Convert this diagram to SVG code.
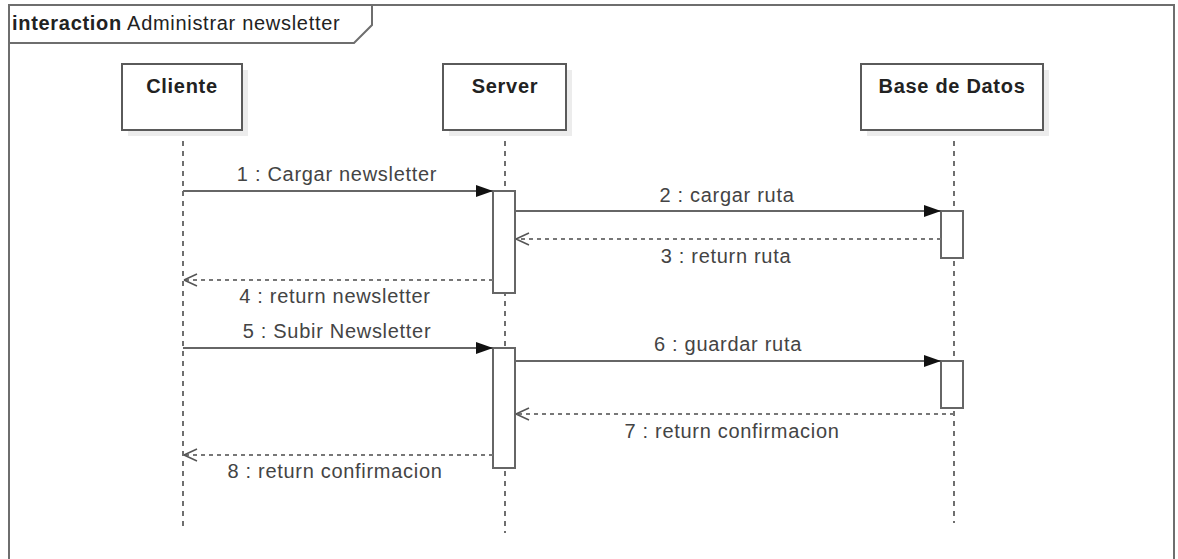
<svg xmlns="http://www.w3.org/2000/svg" width="1178" height="559" viewBox="0 0 1178 559">
<defs>
<style>
.frame{fill:none;stroke:#6e6e6e;stroke-width:2}
.box{fill:#fff;stroke:#5a5a5a;stroke-width:2}
.shadow{fill:#ececec}
.life{stroke:#222;stroke-width:1.3;stroke-dasharray:5,5;fill:none}
.act{fill:#fff;stroke:#666;stroke-width:2}
.msg{stroke:#666;stroke-width:2;fill:none}
.ret{stroke:#777;stroke-width:2;stroke-dasharray:4,4;fill:none}
.t{font-family:"Liberation Sans",Arial,sans-serif;font-size:20px;letter-spacing:0.7px;fill:#444}
.title{font-family:"Liberation Sans",Arial,sans-serif;font-size:20px;letter-spacing:0.7px;font-weight:bold;fill:#222}
</style>
<marker id="filled" markerWidth="18" markerHeight="14" refX="17" refY="7" orient="auto" markerUnits="userSpaceOnUse">
<path d="M0,1 L17,7 L0,13 Z" fill="#111"/>
</marker>
<marker id="open" markerWidth="16" markerHeight="14" refX="14" refY="7" orient="auto" markerUnits="userSpaceOnUse">
<path d="M14,7 L1,1 M14,7 L1,13" fill="none" stroke="#555" stroke-width="1.5"/>
</marker>
</defs>
<rect width="1178" height="559" fill="#fff"/>
<g id="frame">
<rect class="frame" x="9" y="5" width="1165" height="600"/>
<path class="frame" d="M9,43 L354,43 L372,25 L372,5"/>
<text x="12" y="30" class="t" style="fill:#222"><tspan font-weight="bold">interaction</tspan> Administrar newsletter</text>
</g>
<g id="lifelines">
<line class="life" x1="183" y1="131" x2="183" y2="531"/>
<line class="life" x1="505" y1="131" x2="505" y2="533"/>
<line class="life" x1="954" y1="131" x2="954" y2="523"/>
</g>
<g id="cliente">
<rect class="shadow" x="128" y="70" width="120" height="66"/>
<rect class="box" x="122" y="64" width="120" height="66"/>
<text class="title" x="182" y="93" text-anchor="middle">Cliente</text>
</g>
<g id="server">
<rect class="shadow" x="449" y="70" width="123" height="66"/>
<rect class="box" x="443" y="64" width="123" height="66"/>
<text class="title" x="505" y="93" text-anchor="middle">Server</text>
</g>
<g id="basededatos">
<rect class="shadow" x="867" y="70" width="182" height="66"/>
<rect class="box" x="861" y="64" width="182" height="66"/>
<text class="title" x="952" y="93" text-anchor="middle">Base de Datos</text>
</g>
<g id="activations">
<rect class="act" x="493" y="191" width="22" height="102"/>
<rect class="act" x="941" y="211" width="22" height="47"/>
<rect class="act" x="493" y="348" width="22" height="120"/>
<rect class="act" x="941" y="361" width="22" height="47"/>
</g>
<g id="connectors">
<line class="msg" x1="183" y1="191" x2="493" y2="191" marker-end="url(#filled)"/>
<line class="msg" x1="515" y1="211" x2="941" y2="211" marker-end="url(#filled)"/>
<line class="ret" x1="941" y1="239" x2="516" y2="239" marker-end="url(#open)"/>
<line class="ret" x1="493" y1="280" x2="184" y2="280" marker-end="url(#open)"/>
<line class="msg" x1="183" y1="348" x2="493" y2="348" marker-end="url(#filled)"/>
<line class="msg" x1="515" y1="361" x2="941" y2="361" marker-end="url(#filled)"/>
<line class="ret" x1="954" y1="414" x2="516" y2="414" marker-end="url(#open)"/>
<line class="ret" x1="493" y1="455" x2="184" y2="455" marker-end="url(#open)"/>
</g>
<g id="labels">
<text class="t" x="337" y="181" text-anchor="middle">1 : Cargar newsletter</text>
<text class="t" x="727" y="202" text-anchor="middle">2 : cargar ruta</text>
<text class="t" x="726" y="263" text-anchor="middle">3 : return ruta</text>
<text class="t" x="335" y="303" text-anchor="middle">4 : return newsletter</text>
<text class="t" x="337" y="338" text-anchor="middle">5 : Subir Newsletter</text>
<text class="t" x="728" y="351" text-anchor="middle">6 : guardar ruta</text>
<text class="t" x="732" y="438" text-anchor="middle">7 : return confirmacion</text>
<text class="t" x="335" y="478" text-anchor="middle">8 : return confirmacion</text>
</g>
</svg>
